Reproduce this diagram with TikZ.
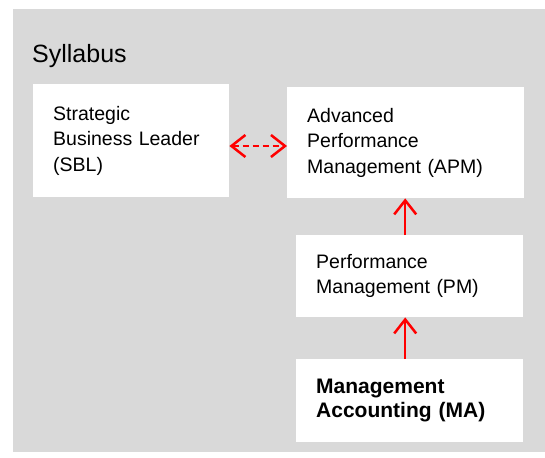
\documentclass[tikz,border=0pt]{standalone}
\usepackage{fontspec}
\setmainfont{Liberation Sans}
\usetikzlibrary{arrows.meta,positioning}
\definecolor{panelgray}{HTML}{D9D9D9}
\definecolor{linkred}{HTML}{FF0000}
\tikzset{
  >={Straight Barb[length=14pt,width=22pt]},
  course/.style={fill=white, anchor=north west, inner xsep=20pt, inner ysep=0pt,
    align=left, font=\fontsize{19.5}{25.5}\selectfont},
  link/.style={draw=linkred, line width=2.5pt}
}

\begin{document}
\begin{tikzpicture}[x=1pt,y=-1pt]
            \useasboundingbox (0,0) rectangle (545,457);
            \fill[panelgray] (13,9) rectangle (545,452);

            % Define nodes
            \node[anchor=base west, inner sep=0pt, font=\fontsize{25}{30}\selectfont] (title) at (32,63) {Syllabus};
            \node[course, text width=156pt, minimum height=113pt] (SBL) at (33,84)
              {Strategic\\Business Leader\\(SBL)};
            \node[course, text width=197pt, minimum height=111pt] (APM) at (287,87)
              {Advanced\\Performance\\Management (APM)};
            \node[course, text width=187pt, minimum height=82pt] (PM) at (296,235)
              {Performance\\Management (PM)};
            \node[course, text width=187pt, minimum height=83pt,
              font=\fontsize{21}{24.5}\selectfont\bfseries] (MA) at (296,359)
              {Management\\Accounting (MA)};

            % Connect the nodes
            \draw[link, dash pattern=on 6pt off 4pt, <->] (SBL.east |- 0,146) -- (APM.west |- 0,146);
            \draw[link, ->] ([xshift=-4.5pt]PM.north) -- ([xshift=-4.5pt]PM.north |- APM.south);
            \draw[link, ->] ([xshift=-4.5pt]MA.north) -- ([xshift=-4.5pt]MA.north |- PM.south);
          \end{tikzpicture}
\end{document}
